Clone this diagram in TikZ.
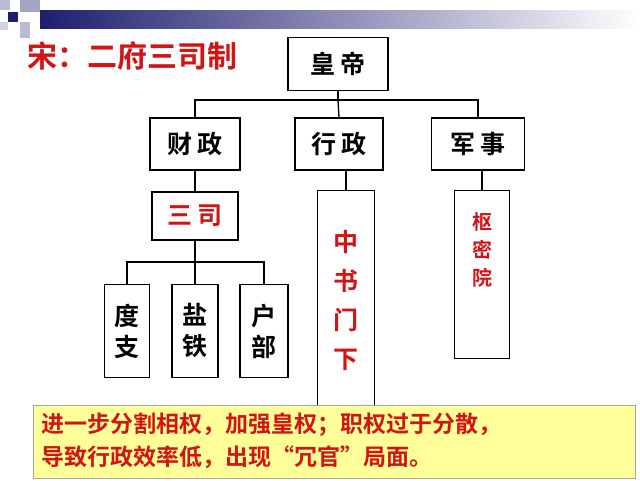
\documentclass[tikz,border=0pt]{standalone}
\usepackage{fontspec}
\newfontfamily\cjk{Noto Sans CJK SC Bold}
\definecolor{tred}{RGB}{210,20,20}
\definecolor{navy}{RGB}{30,30,110}
\definecolor{lyel}{RGB}{255,255,153}
\begin{document}
\begin{tikzpicture}[x=1pt,y=-1pt,
 bx/.style={draw=black,line width=1.3pt,fill=white,inner sep=0pt},
 bt/.style={font=\cjk\fontsize{25}{27}\selectfont,text=black},
 rt/.style={font=\cjk\fontsize{25}{27}\selectfont,text=tred},
 ln/.style={line width=1.3pt}]
\useasboundingbox (0,0) rectangle (640,480);
% header decoration
\shade[left color=navy,right color=white] (40,10) rectangle (640,28);
\fill[navy] (8,12) rectangle (18,22);
\fill[navy!30] (0,0) rectangle (10,10);
\fill[navy!40] (20,0) rectangle (40,12);
\fill[navy!30] (20,22) rectangle (30,38);
\fill[navy!20] (0,22) rectangle (8,30);
\node[anchor=west,font=\cjk\fontsize{30}{32}\selectfont,text=tred] (title) at (24,56) {宋：二府三司制};
% boxes
\node[bx,minimum width=100,minimum height=53,bt] (hd) at (338,64) {皇\,帝};
\node[bx,minimum width=90,minimum height=52,bt] (cz) at (195,144) {财\,政};
\node[bx,minimum width=88,minimum height=52,bt] (xz) at (339,144) {行\,政};
\node[bx,minimum width=93,minimum height=52,bt] (js) at (478,144) {军\,事};
\node[bx,minimum width=86,minimum height=48,rt] (ss) at (195,216) {三\,司};
\node[bx,minimum width=45,minimum height=93,bt,align=center] (dz) at (127,331) {度\\[4pt]支};
\node[bx,minimum width=46,minimum height=93,bt,align=center] (yt) at (195,331) {盐\\[4pt]铁};
\node[bx,minimum width=48,minimum height=93,bt,align=center] (hb) at (264,331) {户\\[4pt]部};
\node[bx,minimum width=57,minimum height=220,anchor=north] (zs) at (346,190) {};
\node[rt,align=center] (zst) at (346,300) {中\\[12pt]书\\[12pt]门\\[12pt]下};
\node[bx,minimum width=55,minimum height=168,anchor=north] (smy) at (482,190) {};
\node[font=\cjk\fontsize{20}{22}\selectfont,text=tred,align=center] (smyt) at (482,250) {枢\\[6pt]密\\[6pt]院};
% connectors
\coordinate (h1) at (338,100);
\draw[ln] (hd.south) -- (h1);
\draw[ln] (cz.north) |- (h1) -| (js.north);
\draw[ln] (h1) -- (xz.north);
\draw[ln] (cz.south) -- (ss.north);
\coordinate (s1) at (195,262);
\draw[ln] (ss.south) -- (s1);
\draw[ln] (dz.north) |- (s1) -| (hb.north);
\draw[ln] (s1) -- (yt.north);
\draw[ln] (zs.north) -- (zs.north |- xz.south);
\draw[ln] (smy.north) -- (smy.north |- js.south);
% bottom note
\node[draw=gray!70,line width=0.8pt,fill=lyel,minimum width=602,minimum height=73,anchor=north west] (note) at (33,405) {};
\node[anchor=west,font=\cjk\fontsize{23}{33}\selectfont,text=tred,align=left] (notet) at (38,441) {进一步分割相权，加强皇权；职权过于分散，\\导致行政效率低，出现“冗官”局面。};
\end{tikzpicture}
\end{document}
